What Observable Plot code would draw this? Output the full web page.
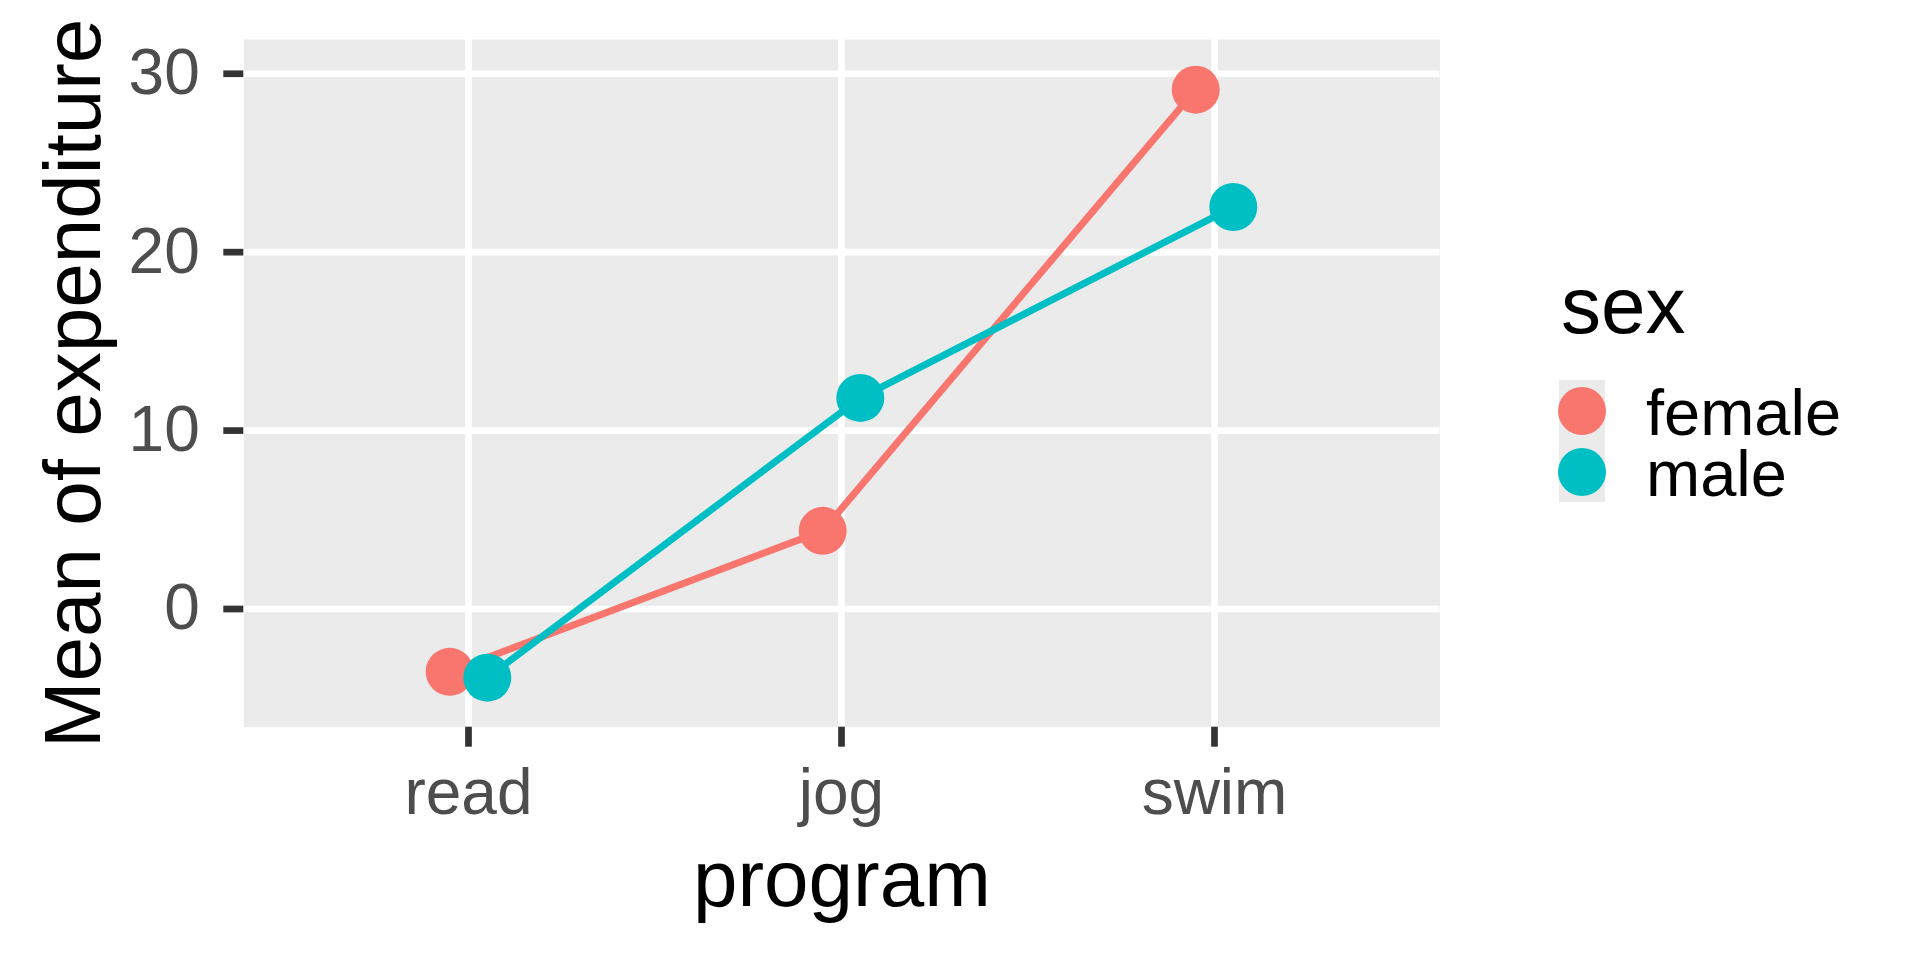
<!DOCTYPE html>
<html>
<head>
<meta charset="utf-8">
<script src="https://cdn.jsdelivr.net/npm/d3@7"></script>
<script src="https://cdn.jsdelivr.net/npm/@observablehq/plot@0.6"></script>
<style>
  html, body { margin: 0; padding: 0; background: #ffffff; overflow: hidden; }
  #wrap { position: relative; width: 1920px; height: 960px; font-family: "Liberation Sans", Arial, sans-serif; }
  #wrap > svg { position: absolute; left: 0; top: 0; }
</style>
</head>
<body>
<div id="wrap"></div>
<script>
// ---- data ----
const programs = ["read", "jog", "swim"];
const sexes = ["female", "male"];
const femaleMeans = [-3.52, 4.38, 29.11];
const maleMeans = [-3.85, 11.83, 22.53];
const sexColors = ["#F8766D", "#00BFC4"];
const yTicks = [0, 10, 20, 30];
const xLabel = "program";
const yLabel = "Mean of expenditure";
const legendTitle = "sex";

const rows = [
  ...programs.map((p, i) => ({program: p, sex: sexes[0], mean: femaleMeans[i]})),
  ...programs.map((p, i) => ({program: p, sex: sexes[1], mean: maleMeans[i]}))
];
const femaleRows = rows.filter(d => d.sex === sexes[0]);
const maleRows = rows.filter(d => d.sex === sexes[1]);

const FONT = "Liberation Sans, Arial, sans-serif";
const DODGE = 18.8;
const LINE_W = 7;
const TITLE_SIZE = 80;

const plot = Plot.plot({
  width: 1920,
  height: 960,
  marginLeft: 243.3,
  marginRight: 480.5,
  marginTop: 39,
  marginBottom: 233.3,
  style: {fontFamily: FONT, background: "transparent", overflow: "visible"},
  x: {type: "point", domain: programs, padding: 0.6},
  y: {domain: [-6.625, 31.92]},
  color: {domain: sexes, range: sexColors},
  marks: [
    Plot.frame({fill: "#EBEBEB", stroke: null}),
    Plot.gridY({ticks: yTicks, stroke: "#ffffff", strokeOpacity: 1, strokeWidth: 6.7}),
    Plot.gridX({stroke: "#ffffff", strokeOpacity: 1, strokeWidth: 6.7}),
    Plot.axisY({ticks: yTicks, tickSize: 20, tickPadding: 24, strokeWidth: 6.7, stroke: "#333333",
                fill: "#4D4D4D", fontSize: 64, fontFamily: FONT, label: null}),
    Plot.axisX({tickSize: 20, tickPadding: 21, strokeWidth: 6.7, stroke: "#333333",
                fill: "#4D4D4D", fontSize: 64, fontFamily: FONT, label: null}),
    Plot.line(femaleRows, {x: "program", y: "mean", stroke: "sex", strokeWidth: LINE_W, dx: -DODGE}),
    Plot.line(maleRows, {x: "program", y: "mean", stroke: "sex", strokeWidth: LINE_W, dx: DODGE}),
    Plot.dot(femaleRows, {x: "program", y: "mean", fill: "sex", r: 24, dx: -DODGE}),
    Plot.dot(maleRows, {x: "program", y: "mean", fill: "sex", r: 24, dx: DODGE}),
    Plot.text([xLabel], {frameAnchor: "bottom", dy: 178.3, lineAnchor: "bottom", textAnchor: "middle",
                         text: d => d, fontSize: TITLE_SIZE, fill: "#000000", fontFamily: FONT}),
    Plot.text([yLabel], {frameAnchor: "left", dx: -144, rotate: -90, lineAnchor: "bottom", textAnchor: "middle",
                         text: d => d, fontSize: TITLE_SIZE, fill: "#000000", fontFamily: FONT})
  ]
});

const wrap = document.getElementById("wrap");
wrap.appendChild(plot);

// ---- legend built from the plot's colour scale ----
const color = plot.scale("color");
const LX = 1540, LY = 250;
const lg = d3.select(wrap).append("svg")
  .attr("width", 380).attr("height", 300)
  .style("position", "absolute").style("left", LX + "px").style("top", LY + "px")
  .attr("font-family", FONT);

lg.append("text").attr("x", 1561 - LX).attr("y", 333 - LY).attr("font-size", TITLE_SIZE).attr("fill", "#000").text(legendTitle);
const keyTop = 380 - LY, keyH = 61;
lg.append("rect").attr("x", 1559 - LX).attr("y", keyTop).attr("width", 46).attr("height", keyH * color.domain.length)
  .attr("fill", "#EBEBEB");
color.domain.forEach((s, i) => {
  const cy = keyTop + keyH * i + 31;
  lg.append("circle").attr("cx", 1582 - LX).attr("cy", cy).attr("r", 24).attr("fill", color.range[i]);
  lg.append("text").attr("x", 1646 - LX).attr("y", cy + 24).attr("font-size", 65).attr("fill", "#000").text(s);
});
</script>
</body>
</html>
